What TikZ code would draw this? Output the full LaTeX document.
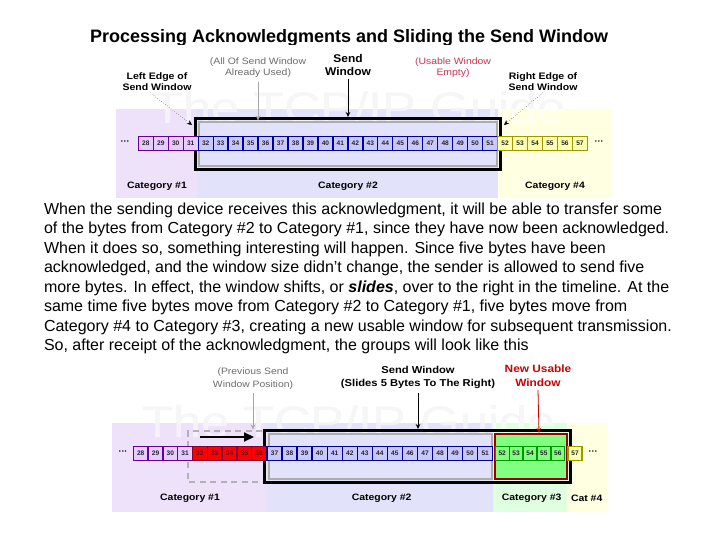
\documentclass[tikz,border=0pt]{standalone}
\usepackage{fontspec}
\usepackage{graphicx}
\setmainfont{Liberation Sans}
\usetikzlibrary{arrows.meta}
\definecolor{bandP}{HTML}{EEE2FA}
\definecolor{bandB}{HTML}{E2E2FA}
\definecolor{bandY}{HTML}{FFFFE2}
\definecolor{bandG}{HTML}{E0FFE0}
\definecolor{cellPf}{HTML}{E6CCFF}
\definecolor{cellPd}{HTML}{660099}
\definecolor{cellBf}{HTML}{C8C8FF}
\definecolor{cellBd}{HTML}{000099}
\definecolor{cellYf}{HTML}{FFFFB0}
\definecolor{cellYd}{HTML}{999900}
\definecolor{cellGf}{HTML}{80FF80}
\definecolor{cellGd}{HTML}{009900}
\definecolor{cellRf}{HTML}{FF0000}
\definecolor{cellRd}{HTML}{880033}
\definecolor{winRed}{HTML}{990000}
\definecolor{nuRed}{HTML}{CC0000}
\definecolor{pinkRed}{HTML}{CC3355}
\newcommand{\wx}[1]{\scalebox{1.12}[1]{#1}}
\newcommand{\wmtext}{\scalebox{1.15}[1]{The TCP/IP Guide}}
\tikzset{
  cellbox/.style={minimum height=14.5pt, line width=1.3pt, inner sep=0pt,
    font=\bfseries\fontsize{6.6}{7}\selectfont, text=black!85},
  cP/.style={cellbox, fill=cellPf, draw=cellPd},
  cB/.style={cellbox, fill=cellBf, draw=cellBd},
  cY/.style={cellbox, fill=cellYf, draw=cellYd},
  cG/.style={cellbox, fill=cellGf, draw=cellGd},
  cR/.style={cellbox, fill=cellRf, draw=cellRd, text=cellRd!70!black},
  catlbl/.style={font=\bfseries\fontsize{9.3}{10}\selectfont},
  toplbl/.style={font=\bfseries\fontsize{9.4}{11.3}\selectfont, align=center},
  greylbl/.style={font=\fontsize{9.3}{11.5}\selectfont, align=center, text=gray!85!black},
  wmarkA/.style={font=\fontsize{44}{44}\selectfont, text=gray!14},
  wmarkB/.style={font=\fontsize{44}{44}\selectfont, text=white, opacity=0.55},
  dots/.style={font=\bfseries\fontsize{9}{10}\selectfont},
  tip/.style={-{Stealth[length=5pt,width=4.5pt]}},
}
\begin{document}
\begin{tikzpicture}[x=1pt,y=-1pt, every node/.style={inner sep=0pt, outer sep=0pt}]
\useasboundingbox (0,0) rectangle (720,540);
\fill[white] (0,0) rectangle (720,540);

% ---------- title (cut off at the bottom as in the reference)
\begin{scope}
\clip (0,0) rectangle (720,44.5);
\node[font=\bfseries\fontsize{18}{20}\selectfont, anchor=base] (title) at (349,42.3) {Processing Acknowledgments and Sliding the Send Window};
\end{scope}

% ---------- top diagram
\node[wmarkA] (wm1a) at (359,107.5) {\wmtext};
\fill[bandP] (116,109) rectangle (197,198);
\fill[bandB] (197,109) rectangle (498,198);
\fill[bandY] (498,109) rectangle (612,198);
\node[wmarkB] (wm1) at (359,107.5) {\wmtext};

\draw[line width=3pt] (195,118.5) rectangle (500.5,170);
\draw[gray!65, line width=2pt, fill=bandB] (198.5,122) rectangle (497,166.5);

\foreach \i in {28,...,31} \node[cP, minimum width=14.97pt] (t\i) at ({145.8+(\i-28)*14.97},143.5) {\i};
\foreach \i in {32,...,51} \node[cB, minimum width=14.97pt] (t\i) at ({145.8+(\i-28)*14.97},143.5) {\i};
\foreach \i in {52,...,57} \node[cY, minimum width=14.97pt] (t\i) at ({145.8+(\i-28)*14.97},143.5) {\i};
\node[dots] (tdl) at (125,142.5) {···};
\node[dots] (tdr) at (599,142.5) {···};

\node[catlbl] (tc1) at (157,186.5) {\wx{Category \#1}};
\node[catlbl] (tc2) at (348,186.5) {\wx{Category \#2}};
\node[catlbl] (tc4) at (555,186.5) {\wx{Category \#4}};

\node[toplbl] (lel) at (157,81.5) {\wx{Left Edge of}\\\wx{Send Window}};
\node[greylbl] (aou) at (258,67.5) {\wx{(All Of Send Window}\\\wx{Already Used)}};
\node[toplbl, font=\bfseries\fontsize{11.2}{13.6}\selectfont] (sw1) at (348,65) {\scalebox{1.07}[1]{Send}\\\scalebox{1.07}[1]{Window}};
\node[greylbl, text=pinkRed] (uwe) at (453,67.5) {\wx{(Usable Window}\\\wx{Empty)}};
\node[toplbl] (rel) at (543,81.5) {\wx{Right Edge of}\\\wx{Send Window}};

\coordinate (leT) at (192,125);
\coordinate (aoT) at (258,120.5);
\coordinate (swT) at (348,117);
\coordinate (reT) at (504,125);
\draw[dotted, tip] ([xshift=-7pt,yshift=-2pt]lel.south) -- (leT);
\draw[gray!70, tip] ([yshift=-4pt]aou.south) -- (aoT);
\draw[tip, line width=0.8pt] ([yshift=-3pt]sw1.south) -- (swT);
\draw[dotted, tip] ([xshift=0pt,yshift=-2pt]rel.south) -- (reT);

% ---------- paragraph
\node[anchor=north west, align=left, font=\fontsize{16}{19.5}\selectfont] (para) at (44,202.8) {%
When the sending device receives this acknowledgment, it will be able to transfer some\\
of the bytes from Category \#2 to Category \#1, since they have now been acknowledged.\\
When it does so, something interesting will happen. Since five bytes have been\\
acknowledged, and the window size didn't change, the sender is allowed to send five\\
more bytes. In effect, the window shifts, or \textbf{\textit{slides}}, over to the right in the timeline. At the\\
same time five bytes move from Category \#2 to Category \#1, five bytes move from\\
Category \#4 to Category \#3, creating a new usable window for subsequent transmission.\\
So, after receipt of the acknowledgment, the groups will look like this};

% ---------- bottom diagram
\node[wmarkA] (wm2a) at (349,421.5) {\wmtext};
\fill[bandP] (112,423) rectangle (267,512);
\fill[bandB] (267,423) rectangle (493,512);
\fill[bandG] (493,423) rectangle (567,512);
\fill[bandY] (567,423) rectangle (607,512);
\node[wmarkB] (wm2) at (349,421.5) {\wmtext};

\draw[gray!60, line width=1.2pt, dash pattern=on 6pt off 4.5pt] (262,431) -- (188,431) -- (188,482) -- (262,482);
\draw[line width=3pt] (264.5,430) rectangle (570,482.5);
\draw[gray!65, line width=2pt, fill=bandB] (268.5,434) rectangle (492.3,478.5);
\draw[winRed, line width=2pt, fill=cellGf] (494.5,434) rectangle (566.5,478.5);

\foreach \i in {28,...,31} \node[cP, minimum width=14.8pt] (b\i) at ({140.7+(\i-28)*14.8},453.5) {\i};
\foreach \i in {32,...,36} \node[cR, minimum width=14.8pt] (b\i) at ({140.7+(\i-28)*14.8},453.5) {\i};
\foreach \i in {37,...,51} \node[cB, minimum width=15.05pt] (b\i) at ({274.5+(\i-37)*15.05},453.5) {\i};
\foreach \i in {52,...,56} \node[cG, minimum width=13.9pt] (b\i) at ({502.2+(\i-52)*13.9},453.5) {\i};
\node[cY, minimum width=13.9pt] (b57) at (575,453.5) {57};
\node[dots] (bdl) at (123,452.5) {···};
\node[dots] (bdr) at (593,452.5) {···};

\node[catlbl] (bc1) at (190,498) {\wx{Category \#1}};
\node[catlbl] (bc2) at (381.7,498) {\wx{Category \#2}};
\node[catlbl] (bc3) at (531.7,498) {\wx{Category \#3}};
\node[catlbl] (bc4) at (586.7,498) {\wx{Cat \#4}};

\node[greylbl, font=\fontsize{9.25}{13.2}\selectfont] (psw) at (253,378.5) {\wx{(Previous Send}\\\wx{Window Position)}};
\node[toplbl, font=\bfseries\fontsize{10}{13.2}\selectfont] (sw2) at (418,377.5) {\wx{Send Window}\\\wx{(Slides 5 Bytes To The Right)}};
\node[toplbl, font=\bfseries\fontsize{10.6}{13.6}\selectfont, text=nuRed] (nuw) at (538,375.5) {\wx{New Usable}\\\wx{Window}};

\coordinate (psT) at (253,429.5);
\coordinate (sw2T) at (418,429);
\coordinate (nuT) at (539,433);
\coordinate (mvS) at (200,437);
\coordinate (mvT) at (254,437);
\draw[gray!70, tip] ([yshift=-4pt]psw.south) -- (psT);
\draw[tip, line width=0.8pt] ([yshift=-4pt]sw2.south) -- (sw2T);
\draw[nuRed, tip, line width=0.8pt] ([yshift=-4pt]nuw.south) -- (nuT);
\draw[line width=2.2pt, -{Triangle[length=10pt,width=9pt]}] (mvS) -- (mvT);
\end{tikzpicture}
\end{document}
